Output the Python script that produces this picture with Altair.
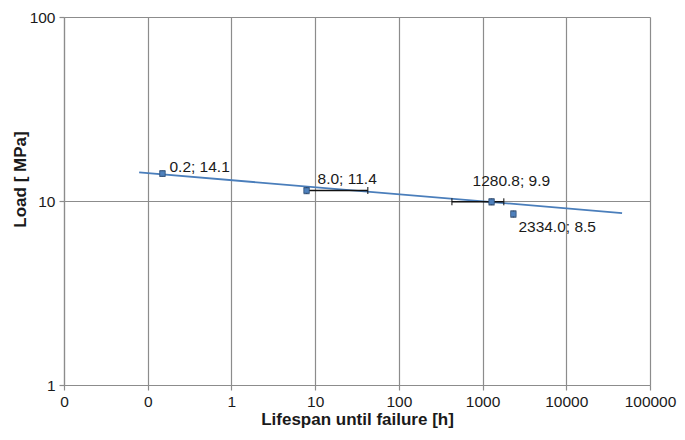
import altair as alt
import pandas as pd

# ---- data ----
lifespan_h = [0.15, 7.9, 1280.8, 2334.0]
load_mpa = [14.1, 11.4, 9.9, 8.5]
point_labels = ["0.2; 14.1", "8.0; 11.4", "1280.8; 9.9", "2334.0; 8.5"]
x_err_low = [0.15, 7.9, 430.0, 2334.0]
x_err_high = [0.15, 42.5, 1790.0, 2334.0]
y_err = [0.5, 0.45, 0.4, 0.35]

trend_x = [0.079, 46400.0]
trend_y = [14.3, 8.6]

x_ticks = [0.01, 0.1, 1, 10, 100, 1000, 10000, 100000]
x_tick_labels = ["0", "0", "1", "10", "100", "1000", "10000", "100000"]
y_ticks = [1, 10, 100]

# ---- styles ----
label_offsets = [(7, -7), (11, -12), (-19, -21), (5, 13)]
FONT = "Liberation Sans"
GRID = "#8c8c8c"
BLUE = "#4a7ebb"
TXT = "#1a1a1a"

pts = pd.DataFrame({
    "x": lifespan_h, "y": load_mpa, "label": point_labels,
    "xlo": x_err_low, "xhi": x_err_high,
    "ylo": [v - e for v, e in zip(load_mpa, y_err)],
    "yhi": [v + e for v, e in zip(load_mpa, y_err)],
})
trend = pd.DataFrame({"x": trend_x, "y": trend_y})

label_expr = " : ".join(
    f"datum.value == {v} ? '{t}'" for v, t in zip(x_ticks, x_tick_labels)
) + " : ''"

xscale = alt.Scale(type="log", domain=[x_ticks[0], x_ticks[-1]])
yscale = alt.Scale(type="log", domain=[y_ticks[0], y_ticks[-1]])

xaxis = alt.Axis(values=x_ticks, labelExpr=label_expr, title="Lifespan until failure [h]",
                 labelPadding=4, titlePadding=2, labelFlush=False, labelOverlap=False)
yaxis = alt.Axis(values=y_ticks, format="d", title="Load [ MPa]", labelPadding=4,
                 titleX=-35, titleY=162, titleBaseline="bottom", titleAlign="center",
                 titleAngle=270)

base = alt.Chart(pts)

line = alt.Chart(trend).mark_line(color=BLUE, strokeWidth=1.8).encode(
    x=alt.X("x:Q", scale=xscale, axis=xaxis),
    y=alt.Y("y:Q", scale=yscale, axis=yaxis),
)

hb = base.transform_filter("datum.xhi > datum.xlo")
herr = hb.mark_rule(color="#111111", strokeWidth=1.5).encode(
    x=alt.X("xlo:Q", scale=xscale), x2="xhi:Q", y=alt.Y("y:Q", scale=yscale))
hcap_lo = hb.mark_tick(color="#111111", orient="vertical", size=7, thickness=1.5).encode(
    x=alt.X("xlo:Q", scale=xscale), y=alt.Y("y:Q", scale=yscale))
hcap_hi = hb.mark_tick(color="#111111", orient="vertical", size=7, thickness=1.5).encode(
    x=alt.X("xhi:Q", scale=xscale), y=alt.Y("y:Q", scale=yscale))

verr = base.mark_rule(color="#1f3a60", strokeWidth=1).encode(
    x=alt.X("x:Q", scale=xscale), y=alt.Y("ylo:Q", scale=yscale), y2="yhi:Q")
vcap_lo = base.mark_tick(color="#1f3a60", orient="horizontal", size=6, thickness=1).encode(
    x=alt.X("x:Q", scale=xscale), y=alt.Y("ylo:Q", scale=yscale))
vcap_hi = base.mark_tick(color="#1f3a60", orient="horizontal", size=6, thickness=1).encode(
    x=alt.X("x:Q", scale=xscale), y=alt.Y("yhi:Q", scale=yscale))

markers = base.mark_point(shape="square", filled=True, size=30, color="#4f81bd",
                          stroke="#2c4d75", strokeWidth=0.8, opacity=1).encode(
    x=alt.X("x:Q", scale=xscale), y=alt.Y("y:Q", scale=yscale))

texts = []
for i, (dx, dy) in enumerate(label_offsets):
    texts.append(
        alt.Chart(pts.iloc[[i]]).mark_text(
            align="left", baseline="middle", dx=dx, dy=dy,
            font=FONT, fontSize=15.5, color=TXT).encode(
            x=alt.X("x:Q", scale=xscale), y=alt.Y("y:Q", scale=yscale), text="label:N")
    )

chart = alt.layer(line, herr, hcap_lo, hcap_hi, verr, vcap_lo, vcap_hi, markers, *texts).properties(
    width=586, height=368,
    autosize=alt.AutoSizeParams(type="none"),
    padding={"left": 56, "top": 9, "right": 27, "bottom": 47},
    background="white",
).configure_view(stroke=None).configure_axis(
    grid=True, gridColor=GRID, gridWidth=1.2, gridOpacity=1,
    domainColor=GRID, domainWidth=1.2, tickColor=GRID, tickSize=5, tickWidth=1.2,
    labelFont=FONT, labelFontSize=15.5, labelColor=TXT,
    titleFont=FONT, titleFontSize=17, titleFontWeight="bold", titleColor=TXT,
)

chart.save("out.html", embed_options={"renderer": "svg", "actions": False})
